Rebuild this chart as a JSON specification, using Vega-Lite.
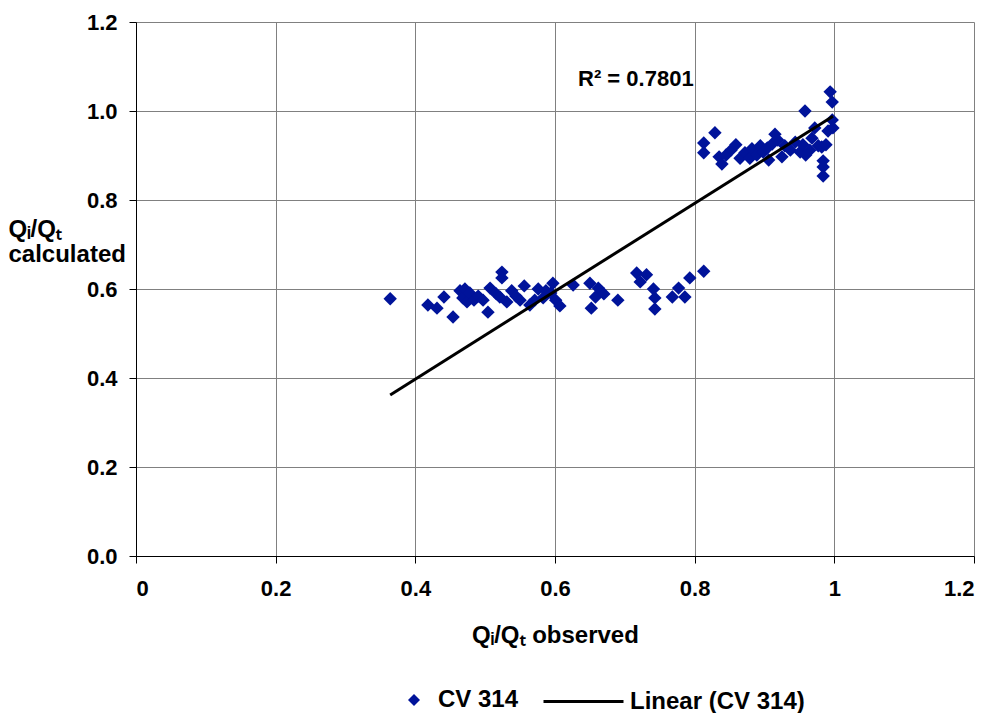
{
  "$schema": "https://vega.github.io/schema/vega-lite/v6.json",
  "width": 838,
  "height": 534,
  "autosize": "none",
  "padding": {"left": 136, "top": 22, "right": 21, "bottom": 157},
  "background": "white",
  "config": {
    "view": {"stroke": null},
    "font": "Liberation Sans",
    "axis": {
      "gridColor": "#808080",
      "gridOpacity": 1,
      "gridWidth": 1,
      "domainColor": "#000000",
      "domainWidth": 1,
      "tickColor": "#000000",
      "tickSize": 7,
      "labelFont": "Liberation Sans",
      "labelFontWeight": "bold",
      "labelFontSize": 22,
      "labelColor": "#000000",
      "titleFont": "Liberation Sans",
      "titleFontWeight": "bold",
      "titleFontSize": 24,
      "titleColor": "#000000"
    },
    "legend": {
      "labelFont": "Liberation Sans",
      "labelFontWeight": "bold",
      "labelFontSize": 24,
      "labelColor": "#000000",
      "labelLimit": 400
    }
  },
  "datasets": {
    "points": [
      {"observed": 0.364, "calculated": 0.578, "series": "CV 314"},
      {"observed": 0.418, "calculated": 0.564, "series": "CV 314"},
      {"observed": 0.431, "calculated": 0.557, "series": "CV 314"},
      {"observed": 0.441, "calculated": 0.582, "series": "CV 314"},
      {"observed": 0.454, "calculated": 0.537, "series": "CV 314"},
      {"observed": 0.464, "calculated": 0.596, "series": "CV 314"},
      {"observed": 0.468, "calculated": 0.580, "series": "CV 314"},
      {"observed": 0.471, "calculated": 0.600, "series": "CV 314"},
      {"observed": 0.474, "calculated": 0.571, "series": "CV 314"},
      {"observed": 0.478, "calculated": 0.591, "series": "CV 314"},
      {"observed": 0.484, "calculated": 0.575, "series": "CV 314"},
      {"observed": 0.490, "calculated": 0.584, "series": "CV 314"},
      {"observed": 0.497, "calculated": 0.575, "series": "CV 314"},
      {"observed": 0.504, "calculated": 0.548, "series": "CV 314"},
      {"observed": 0.507, "calculated": 0.602, "series": "CV 314"},
      {"observed": 0.516, "calculated": 0.589, "series": "CV 314"},
      {"observed": 0.521, "calculated": 0.582, "series": "CV 314"},
      {"observed": 0.524, "calculated": 0.638, "series": "CV 314"},
      {"observed": 0.524, "calculated": 0.625, "series": "CV 314"},
      {"observed": 0.531, "calculated": 0.571, "series": "CV 314"},
      {"observed": 0.538, "calculated": 0.596, "series": "CV 314"},
      {"observed": 0.544, "calculated": 0.584, "series": "CV 314"},
      {"observed": 0.550, "calculated": 0.575, "series": "CV 314"},
      {"observed": 0.556, "calculated": 0.607, "series": "CV 314"},
      {"observed": 0.564, "calculated": 0.564, "series": "CV 314"},
      {"observed": 0.571, "calculated": 0.575, "series": "CV 314"},
      {"observed": 0.576, "calculated": 0.600, "series": "CV 314"},
      {"observed": 0.583, "calculated": 0.580, "series": "CV 314"},
      {"observed": 0.587, "calculated": 0.596, "series": "CV 314"},
      {"observed": 0.594, "calculated": 0.591, "series": "CV 314"},
      {"observed": 0.597, "calculated": 0.613, "series": "CV 314"},
      {"observed": 0.601, "calculated": 0.575, "series": "CV 314"},
      {"observed": 0.607, "calculated": 0.562, "series": "CV 314"},
      {"observed": 0.626, "calculated": 0.609, "series": "CV 314"},
      {"observed": 0.650, "calculated": 0.613, "series": "CV 314"},
      {"observed": 0.652, "calculated": 0.557, "series": "CV 314"},
      {"observed": 0.658, "calculated": 0.582, "series": "CV 314"},
      {"observed": 0.662, "calculated": 0.602, "series": "CV 314"},
      {"observed": 0.670, "calculated": 0.589, "series": "CV 314"},
      {"observed": 0.690, "calculated": 0.575, "series": "CV 314"},
      {"observed": 0.717, "calculated": 0.636, "series": "CV 314"},
      {"observed": 0.722, "calculated": 0.616, "series": "CV 314"},
      {"observed": 0.731, "calculated": 0.632, "series": "CV 314"},
      {"observed": 0.741, "calculated": 0.600, "series": "CV 314"},
      {"observed": 0.743, "calculated": 0.580, "series": "CV 314"},
      {"observed": 0.743, "calculated": 0.555, "series": "CV 314"},
      {"observed": 0.768, "calculated": 0.582, "series": "CV 314"},
      {"observed": 0.777, "calculated": 0.602, "series": "CV 314"},
      {"observed": 0.786, "calculated": 0.582, "series": "CV 314"},
      {"observed": 0.793, "calculated": 0.625, "series": "CV 314"},
      {"observed": 0.813, "calculated": 0.640, "series": "CV 314"},
      {"observed": 0.813, "calculated": 0.928, "series": "CV 314"},
      {"observed": 0.813, "calculated": 0.906, "series": "CV 314"},
      {"observed": 0.829, "calculated": 0.951, "series": "CV 314"},
      {"observed": 0.835, "calculated": 0.897, "series": "CV 314"},
      {"observed": 0.839, "calculated": 0.881, "series": "CV 314"},
      {"observed": 0.845, "calculated": 0.901, "series": "CV 314"},
      {"observed": 0.852, "calculated": 0.912, "series": "CV 314"},
      {"observed": 0.859, "calculated": 0.924, "series": "CV 314"},
      {"observed": 0.865, "calculated": 0.894, "series": "CV 314"},
      {"observed": 0.872, "calculated": 0.906, "series": "CV 314"},
      {"observed": 0.879, "calculated": 0.894, "series": "CV 314"},
      {"observed": 0.882, "calculated": 0.915, "series": "CV 314"},
      {"observed": 0.889, "calculated": 0.901, "series": "CV 314"},
      {"observed": 0.894, "calculated": 0.922, "series": "CV 314"},
      {"observed": 0.898, "calculated": 0.908, "series": "CV 314"},
      {"observed": 0.904, "calculated": 0.917, "series": "CV 314"},
      {"observed": 0.906, "calculated": 0.890, "series": "CV 314"},
      {"observed": 0.911, "calculated": 0.926, "series": "CV 314"},
      {"observed": 0.915, "calculated": 0.948, "series": "CV 314"},
      {"observed": 0.919, "calculated": 0.935, "series": "CV 314"},
      {"observed": 0.925, "calculated": 0.897, "series": "CV 314"},
      {"observed": 0.929, "calculated": 0.922, "series": "CV 314"},
      {"observed": 0.937, "calculated": 0.912, "series": "CV 314"},
      {"observed": 0.944, "calculated": 0.930, "series": "CV 314"},
      {"observed": 0.951, "calculated": 0.908, "series": "CV 314"},
      {"observed": 0.955, "calculated": 0.924, "series": "CV 314"},
      {"observed": 0.958, "calculated": 1.000, "series": "CV 314"},
      {"observed": 0.959, "calculated": 0.901, "series": "CV 314"},
      {"observed": 0.965, "calculated": 0.912, "series": "CV 314"},
      {"observed": 0.968, "calculated": 0.939, "series": "CV 314"},
      {"observed": 0.972, "calculated": 0.962, "series": "CV 314"},
      {"observed": 0.977, "calculated": 0.922, "series": "CV 314"},
      {"observed": 0.982, "calculated": 0.919, "series": "CV 314"},
      {"observed": 0.984, "calculated": 0.888, "series": "CV 314"},
      {"observed": 0.984, "calculated": 0.874, "series": "CV 314"},
      {"observed": 0.984, "calculated": 0.854, "series": "CV 314"},
      {"observed": 0.988, "calculated": 0.924, "series": "CV 314"},
      {"observed": 0.991, "calculated": 0.955, "series": "CV 314"},
      {"observed": 0.994, "calculated": 1.043, "series": "CV 314"},
      {"observed": 0.997, "calculated": 1.020, "series": "CV 314"},
      {"observed": 0.997, "calculated": 0.980, "series": "CV 314"},
      {"observed": 0.998, "calculated": 0.962, "series": "CV 314"}
    ],
    "trend": [
      {"observed": 0.364, "fit": 0.362},
      {"observed": 0.998, "fit": 0.988}
    ],
    "annotation": [
      {"label": "R² = 0.7801"}
    ]
  },
  "layer": [
    {
      "data": {"name": "points"},
      "mark": {"type": "point", "shape": "diamond", "filled": true, "size": 180, "opacity": 1},
      "encoding": {
        "x": {
          "field": "observed", "type": "quantitative",
          "scale": {"domain": [0, 1.2], "nice": false},
          "axis": {
            "values": [0, 0.2, 0.4, 0.6, 0.8, 1, 1.2],
            "format": "~g",
            "labelPadding": 15,
            "title": "Qᵢ/Qₜ observed",
            "titlePadding": 24
          }
        },
        "y": {
          "field": "calculated", "type": "quantitative",
          "scale": {"domain": [0, 1.2], "nice": false},
          "axis": {
            "values": [0, 0.2, 0.4, 0.6, 0.8, 1, 1.2],
            "format": ".1f",
            "labelPadding": 12,
            "title": ["Qᵢ/Qₜ", "calculated"],
            "titleAngle": 0,
            "titleAlign": "left",
            "titleBaseline": "top",
            "titleX": -128,
            "titleY": 195,
            "titleLineHeight": 25
          }
        },
        "color": {
          "field": "series", "type": "nominal",
          "scale": {"domain": ["CV 314"], "range": ["#00139A"]},
          "legend": {
            "orient": "none",
            "legendX": 266,
            "legendY": 666,
            "title": null,
            "symbolType": "diamond",
            "symbolSize": 144,
            "labelOffset": 12
          }
        }
      }
    },
    {
      "data": {"name": "trend"},
      "mark": {"type": "line", "strokeWidth": 3},
      "encoding": {
        "x": {"field": "observed", "type": "quantitative"},
        "y": {"field": "fit", "type": "quantitative"},
        "stroke": {
          "datum": "Linear (CV 314)", "type": "nominal",
          "scale": {"range": ["#000000"]},
          "legend": {
            "orient": "none",
            "legendX": 406,
            "legendY": 638,
            "title": null,
            "symbolType": "stroke",
            "symbolSize": 6400,
            "symbolStrokeWidth": 3,
            "labelOffset": 5
          }
        }
      }
    },
    {
      "data": {"name": "annotation"},
      "mark": {"type": "text", "align": "left", "baseline": "alphabetic", "font": "Liberation Sans", "fontWeight": "bold", "fontSize": 22, "fill": "#000000"},
      "encoding": {
        "x": {"datum": 0.633, "type": "quantitative"},
        "y": {"datum": 1.056, "type": "quantitative"},
        "text": {"field": "label", "type": "nominal"}
      }
    }
  ]
}
